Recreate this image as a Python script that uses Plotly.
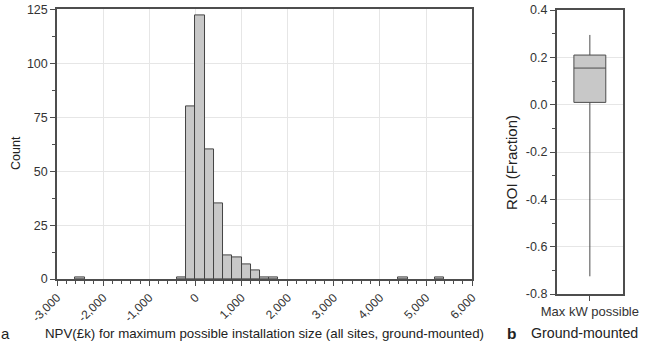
import plotly.graph_objects as go

# Histogram data (bin centers in £k, bin width 200)
bin_centers = [-2500, -300, -100, 100, 300, 500, 700, 900, 1100, 1300, 1500, 1700, 4500, 5300]
counts = [1, 1, 80, 122, 60, 35, 11, 10, 7, 4, 1, 1, 1, 1]
bin_width = 200

x_tickvals = [-3000, -2000, -1000, 0, 1000, 2000, 3000, 4000, 5000, 6000]
x_ticktext = ["-3,000", "-2,000", "-1,000", "0", "1,000", "2,000", "3,000", "4,000", "5,000", "6,000"]
y_tickvals = [0, 25, 50, 75, 100, 125]

# Box plot data (ROI fraction)
box_category = ["Max kW possible"]
roi_q1 = [0.01]
roi_median = [0.155]
roi_q3 = [0.21]
roi_lower = [-0.725]
roi_upper = [0.295]
roi_tickvals = [0.4, 0.2, 0.0, -0.2, -0.4, -0.6, -0.8]
roi_ticktext = ["0.4", "0.2", "0.0", "-0.2", "-0.4", "-0.6", "-0.8"]

FONT = "Liberation Sans, Arial, sans-serif"
AX = "#4d4d4d"
TXT = "#333333"
GRID = "#e6e6e6"

fig = go.Figure()
fig.add_trace(go.Bar(
    x=bin_centers, y=counts, width=bin_width,
    marker=dict(color="#c8c8c8", line=dict(color="#444444", width=1)),
    xaxis="x", yaxis="y", showlegend=False,
))
fig.add_trace(go.Box(
    x=box_category, q1=roi_q1, median=roi_median, q3=roi_q3,
    lowerfence=roi_lower, upperfence=roi_upper,
    width=0.48, whiskerwidth=0,
    fillcolor="#c8c8c8", line=dict(color="#4d4d4d", width=1),
    xaxis="x2", yaxis="y2", showlegend=False, boxpoints=False,
))

def common(size):
    return dict(showline=True, linecolor=AX, linewidth=1.5, mirror=True,
                ticks="outside", tickcolor=AX, ticklen=5, tickwidth=1,
                tickfont=dict(family=FONT, size=size, color=TXT),
                gridcolor=GRID, gridwidth=1, zeroline=False, automargin=False)

fig.update_layout(
    width=645, height=348,
    margin=dict(l=0, r=0, t=0, b=0),
    paper_bgcolor="white", plot_bgcolor="white",
    bargap=0,
    xaxis=dict(domain=[0.0884, 0.732], range=[-3000, 6000],
               tickvals=x_tickvals, ticktext=x_ticktext, tickangle=-45,
               minor=dict(dtick=200, tick0=0, ticklen=3, tickcolor=AX, ticks="outside", showgrid=False),
               anchor="y", **common(12)),
    yaxis=dict(domain=[0.198, 0.973], range=[0, 125],
               tickvals=y_tickvals,
               minor=dict(dtick=12.5, tick0=0, ticklen=3, tickcolor=AX, ticks="outside", showgrid=False),
               anchor="x", **common(12.5)),
    xaxis2=dict(domain=[0.863, 0.966], range=[-0.5, 0.5], type="category",
                showgrid=False, anchor="y2", **common(13)),
    yaxis2=dict(domain=[0.155, 0.971], range=[-0.8, 0.4],
                tickvals=roi_tickvals, ticktext=roi_ticktext,
                minor=dict(dtick=0.1, tick0=0, ticklen=3, tickcolor=AX, ticks="outside", showgrid=False),
                anchor="x2", **common(12.5)),
)

def ann(text, x, y, size, rot=0, bold=False, xanchor="center"):
    fig.add_annotation(text=f"<b>{text}</b>" if bold else text,
                       x=x / 645, y=1 - y / 348, xref="paper", yref="paper",
                       showarrow=False, textangle=rot, xanchor=xanchor, yanchor="middle",
                       font=dict(family=FONT, size=size, color="#222222"))

ann("Count", 16, 153, 12.5, rot=-90)
ann("NPV(£k) for maximum possible installation size (all sites, ground-mounted)", 264.5, 333, 13.3)
ann("a", 5, 333, 15)
ann("ROI (Fraction)", 511, 163, 15, rot=-90)
ann("b", 505, 333, 15.5, bold=True, xanchor="left")
ann("Ground-mounted", 529, 333, 14.2, xanchor="left")

fig.write_html("out.html")
